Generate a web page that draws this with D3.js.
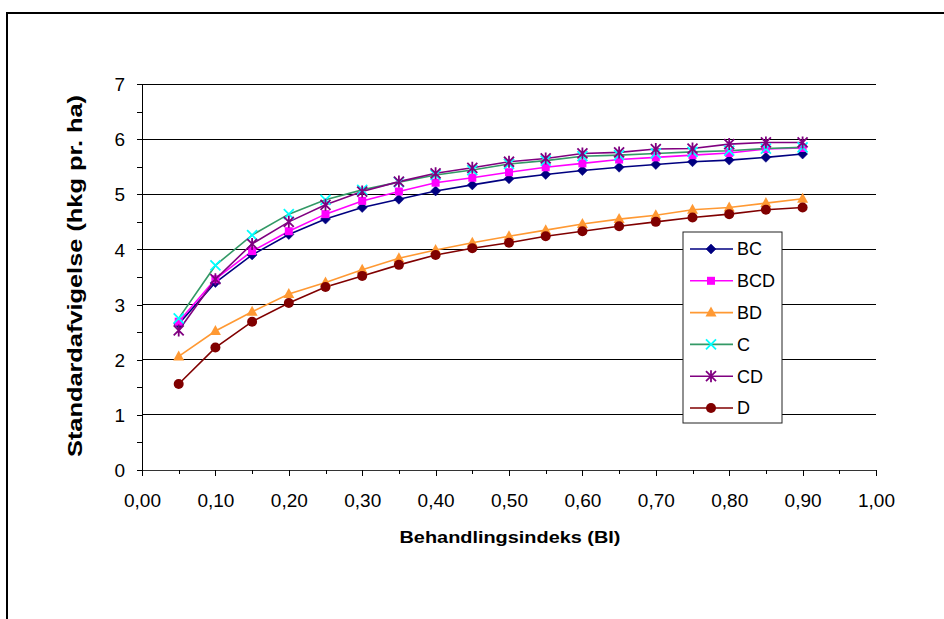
<!DOCTYPE html>
<html><head><meta charset="utf-8">
<script src="https://cdn.jsdelivr.net/npm/d3@7"></script>
<style>body{margin:0;background:#fff;} svg{display:block;font-family:"Liberation Sans",Arial,sans-serif;}</style>
</head><body>
<svg id="chart" width="944" height="619"></svg>
<script>
const bi = [0.05,0.10,0.15,0.20,0.25,0.30,0.35,0.40,0.45,0.50,0.55,0.60,0.65,0.70,0.75,0.80,0.85,0.90];
const BC  = [2.65,3.40,3.90,4.27,4.55,4.76,4.91,5.06,5.17,5.28,5.36,5.43,5.49,5.54,5.59,5.62,5.67,5.73];
const BCD = [2.69,3.46,3.97,4.33,4.64,4.88,5.05,5.21,5.30,5.40,5.49,5.56,5.63,5.67,5.71,5.75,5.82,5.84];
const BD  = [2.06,2.52,2.87,3.19,3.40,3.63,3.84,3.99,4.12,4.24,4.35,4.46,4.55,4.62,4.72,4.76,4.84,4.92];
const C   = [2.75,3.71,4.26,4.64,4.90,5.08,5.22,5.35,5.44,5.55,5.61,5.69,5.71,5.74,5.77,5.79,5.83,5.85];
const CD  = [2.53,3.46,4.10,4.50,4.81,5.05,5.23,5.38,5.48,5.59,5.65,5.74,5.76,5.82,5.83,5.91,5.94,5.94];
const D   = [1.56,2.22,2.69,3.03,3.32,3.52,3.72,3.90,4.02,4.12,4.24,4.33,4.42,4.50,4.58,4.64,4.72,4.76];
const seriesNames = ["BC","BCD","BD","C","CD","D"];
const xTicks = [0,0.1,0.2,0.3,0.4,0.5,0.6,0.7,0.8,0.9,1.0];
const yTicks = [0,1,2,3,4,5,6,7];

const series = [
  {name:"BC", values:BC, line:"#000080", fill:"#000080", marker:"diamond"},
  {name:"BCD", values:BCD, line:"#FF00FF", fill:"#FF00FF", marker:"square"},
  {name:"BD", values:BD, line:"#FF9933", fill:"#FF9933", marker:"triangle"},
  {name:"C", values:C, line:"#339966", fill:"#00FFFF", marker:"x"},
  {name:"CD", values:CD, line:"#800080", fill:"#800080", marker:"star"},
  {name:"D", values:D, line:"#800000", fill:"#800000", marker:"circle"}
];

const svg = d3.select("#chart");
// outer frame
svg.append("rect").attr("x",7).attr("y",13).attr("width",960).attr("height",640)
  .attr("fill","none").attr("stroke","#000").attr("stroke-width",2);

const x = d3.scaleLinear().domain([0,1]).range([142,876]);
const y = d3.scaleLinear().domain([0,7]).range([470,84]);

// gridlines
svg.append("g").selectAll("line").data(yTicks.filter(d=>d>0)).join("line")
  .attr("x1",x(0)).attr("x2",x(1)).attr("y1",d=>y(d)).attr("y2",d=>y(d))
  .attr("stroke","#000").attr("stroke-width",1).attr("shape-rendering","crispEdges");

// y axis
const yAxis = d3.axisLeft(y).tickValues(d3.range(0,7.01,0.5)).tickSize(5)
  .tickFormat(d=> Number.isInteger(d) ? d3.format("d")(d) : "");
const gy = svg.append("g").attr("transform",`translate(${x(0)},0)`).call(yAxis);
gy.attr("font-size",null).attr("font-family",null);
gy.select(".domain").attr("stroke","#000").attr("shape-rendering","crispEdges");
gy.selectAll(".tick line").attr("stroke","#000").attr("shape-rendering","crispEdges");
gy.selectAll(".tick text").style("font-size","19px").attr("fill","#000").attr("x",-17).attr("dy","0.35em");

// x axis
const xAxis = d3.axisBottom(x).tickValues(d3.range(0,1.001,0.05))
  .tickSizeInner(0).tickSizeOuter(0)
  .tickFormat(d=> Math.abs(Math.round(d*10)-d*10)<1e-6 ? d3.format(".2f")(d).replace(".",",") : "");
const gx = svg.append("g").attr("transform",`translate(0,${y(0)})`).call(xAxis);
gx.attr("font-size",null).attr("font-family",null);
gx.select(".domain").attr("stroke","#333").attr("stroke-width",1.5).attr("shape-rendering","crispEdges");
gx.selectAll(".tick line").attr("stroke","#000").attr("shape-rendering","crispEdges")
  .attr("y2",d=> gx.selectAll && Math.abs(Math.round(d*10)-d*10)<1e-6 ? 6 : 4);
gx.selectAll(".tick text").style("font-size","19px").attr("fill","#000").attr("y",37).attr("dy",0);

// titles
svg.append("text").attr("x",510).attr("y",543).attr("text-anchor","middle")
  .attr("font-weight","bold").style("font-size","17px")
  .attr("textLength",221).attr("lengthAdjust","spacingAndGlyphs").text("Behandlingsindeks (BI)");
svg.append("text").attr("transform","translate(82,276) rotate(-90)").attr("text-anchor","middle")
  .attr("font-weight","bold").style("font-size","20px")
  .attr("textLength",362).attr("lengthAdjust","spacingAndGlyphs").text("Standardafvigelse (hkg pr. ha)");

function drawMarker(g, type, fill){
  if(type==="diamond"){
    g.append("path").attr("d","M0,-5L5,0L0,5L-5,0Z").attr("fill",fill).attr("stroke",fill).attr("stroke-width",0.5);
  } else if(type==="square"){
    g.append("rect").attr("x",-4).attr("y",-4).attr("width",8).attr("height",8).attr("fill",fill);
  } else if(type==="triangle"){
    g.append("path").attr("d","M0,-6L5.5,4L-5.5,4Z").attr("fill",fill);
  } else if(type==="x"){
    g.append("path").attr("d","M-5,-5L5,5M-5,5L5,-5").attr("stroke",fill).attr("stroke-width",1.8);
  } else if(type==="star"){
    g.append("path").attr("d","M-5,-5L5,5M-5,5L5,-5M0,-6L0,6").attr("stroke",fill).attr("stroke-width",1.8);
  } else if(type==="circle"){
    g.append("circle").attr("r",5).attr("fill",fill);
  }
}

const line = d3.line().x((d,i)=>x(bi[i])).y(d=>y(d));
series.forEach(s=>{
  svg.append("path").datum(s.values).attr("d",line).attr("fill","none")
    .attr("stroke",s.line).attr("stroke-width",1.6);
});
series.forEach(s=>{
  const g = svg.append("g");
  s.values.forEach((v,i)=>{
    const m = g.append("g").attr("transform",`translate(${x(bi[i])},${y(v)})`);
    drawMarker(m, s.marker, s.fill);
  });
});

// legend
const lg = svg.append("g");
lg.append("rect").attr("x",683).attr("y",232).attr("width",99).attr("height",191)
  .attr("fill","#fff").attr("stroke","#222").attr("stroke-width",1);
const ly = d3.scalePoint().domain(seriesNames).range([249,408]);
series.forEach(s=>{
  const yy = ly(s.name);
  lg.append("line").attr("x1",690).attr("x2",733).attr("y1",yy).attr("y2",yy)
    .attr("stroke",s.line).attr("stroke-width",1.6);
  const m = lg.append("g").attr("transform",`translate(711,${yy})`);
  drawMarker(m, s.marker, s.fill);
  lg.append("text").attr("x",737).attr("y",yy).attr("dy","0.36em")
    .style("font-size","18px").attr("fill","#000").text(s.name);
});
</script>
</body></html>
